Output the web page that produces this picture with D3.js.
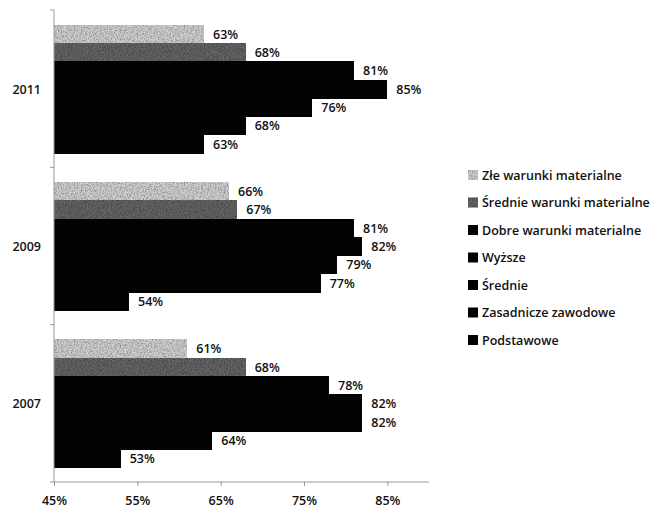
<!DOCTYPE html>
<html><head><meta charset="utf-8">
<script src="https://cdn.jsdelivr.net/npm/d3@7"></script>
<style>body{margin:0;background:#fff}text{font-family:"Open Sans",Lato,sans-serif;font-weight:600}</style>
</head><body><svg id="c" width="652" height="509"></svg>
<script>
const years = ["2011","2009","2007"];
const seriesNames = ["Złe warunki materialne","Średnie warunki materialne","Dobre warunki materialne","Wyższe","Średnie","Zasadnicze zawodowe","Podstawowe"];
const seriesColors = ["#d2d2d2","#666666","#030303","#030303","#030303","#030303","#030303"];
const values2011 = [63,68,81,85,76,68,63];
const values2009 = [66,67,81,82,79,77,54];
const values2007 = [61,68,78,82,82,64,53];
const xTicks = [45,55,65,75,85];
const valuesByYear = {"2011":values2011,"2009":values2009,"2007":values2007};

(function(){
const svg = d3.select("#c");
const pLeft = 54, pRight = 429, pTop = 10, pBottom = 482;
const fs = 12.5;

// soft speckle texture like the scanned original
const defs = svg.append("defs");
const f = defs.append("filter").attr("id","speckle").attr("x",0).attr("y",0).attr("width",1).attr("height",1);
f.append("feTurbulence").attr("type","fractalNoise").attr("baseFrequency",0.7).attr("numOctaves",2).attr("seed",4).attr("result","t");
f.append("feColorMatrix").attr("in","t").attr("type","matrix")
  .attr("values","0 0 0 0 0  0 0 0 0 0  0 0 0 0 0  0 0 0 1.4 -0.5").attr("result","dots");
f.append("feComposite").attr("in","dots").attr("in2","SourceGraphic").attr("operator","in").attr("result","dd");
const m = f.append("feMerge");
m.append("feMergeNode").attr("in","SourceGraphic");
m.append("feMergeNode").attr("in","dd");

const x = d3.scaleLinear().domain([45,90]).range([pLeft,pRight]);
const y0 = d3.scaleBand().domain(years).range([pTop,pBottom]).paddingInner(0.186).paddingOuter(0.093);
const y1 = d3.scaleBand().domain(seriesNames).range([0,y0.bandwidth()]).padding(0);

const g = svg.append("g");
years.forEach(yr => {
  const vals = valuesByYear[yr];
  const gy = g.append("g").attr("transform",`translate(0,${y0(yr)})`);
  gy.selectAll("rect").data(seriesNames).join("rect")
    .attr("x", x(45)).attr("y", d=>y1(d))
    .attr("width", (d,i)=>x(vals[i])-x(45))
    .attr("height", y1.bandwidth()+1)
    .attr("shape-rendering","crispEdges")
    .attr("fill",(d,i)=>seriesColors[i])
    .attr("filter",(d,i)=>i<2?"url(#speckle)":null);
  gy.selectAll("text").data(seriesNames).join("text")
    .attr("x",(d,i)=>x(vals[i])+9)
    .attr("y",d=>y1(d)+y1.bandwidth()/2+5)
    .attr("font-size",fs).attr("fill","#111")
    .text((d,i)=>vals[i]+"%");
});

// y axis
const yAxisG = svg.append("g");
yAxisG.append("line").attr("x1",pLeft).attr("x2",pLeft).attr("y1",pTop).attr("y2",pBottom).attr("stroke","#999");
const bounds = [pTop, ...years.slice(1).map(yr=>y0(yr)-y0.step()*y0.paddingInner()/2), pBottom];
yAxisG.selectAll("line.t").data(bounds).join("line").attr("class","t")
  .attr("x1",pLeft-4).attr("x2",pLeft).attr("y1",d=>d).attr("y2",d=>d).attr("stroke","#999");
yAxisG.selectAll("text").data(years).join("text")
  .attr("x",41).attr("y",d=>y0(d)+y0.bandwidth()/2+5)
  .attr("text-anchor","end").attr("font-size",fs).attr("fill","#111").text(d=>d);

// x axis
const xAxis = d3.axisBottom(x).tickValues(xTicks).tickFormat(d=>d+"%").tickSize(4).tickPadding(10);
const xg = svg.append("g").attr("transform",`translate(0,${pBottom})`).call(xAxis);
xg.select(".domain").attr("stroke","#999").attr("d",`M${pLeft},0H${pRight}`);
xg.selectAll(".tick line").attr("stroke","#999");
xg.selectAll(".tick text").attr("font-size",fs).attr("fill","#111").attr("font-family","'Open Sans',Lato,sans-serif");

// legend
const lg = svg.append("g").attr("transform","translate(468,175)");
const items = lg.selectAll("g").data(seriesNames).join("g").attr("transform",(d,i)=>`translate(0,${i*27.5})`);
items.append("rect").attr("x",0).attr("y",-5).attr("width",10).attr("height",10).attr("fill",(d,i)=>seriesColors[i])
  .attr("filter",(d,i)=>i<2?"url(#speckle)":null);
items.append("text").attr("x",14).attr("y",4.5).attr("font-size",fs).attr("fill","#111").text(d=>d);
})();
</script></body></html>
